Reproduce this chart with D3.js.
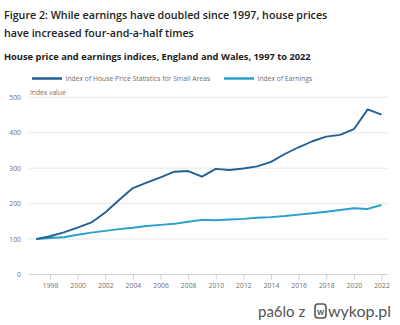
<!DOCTYPE html>
<html>
<head>
<meta charset="utf-8">
<script src="https://cdn.jsdelivr.net/npm/d3@7"></script>
<style>
  body { margin: 0; background: #fff; }
  svg { display: block; font-family: "Open Sans", sans-serif; }
</style>
</head>
<body>
<svg id="chart"></svg>
<script>
let years = d3.range(1997, 2023);

let housePrices = [100, 108, 119, 132, 147, 175, 210, 244, 259, 274, 290, 292, 276, 298, 295, 299, 305, 318, 340, 359, 376, 389, 394, 410, 466, 451];
let earnings = [100, 103, 105, 112, 118, 123, 128, 132, 137, 140, 143, 149, 154, 153, 155, 157, 160, 162, 165, 169, 173, 177, 182, 187, 185, 196];

let yTicks = [0, 100, 200, 300, 400, 500];
let xTicks = d3.range(1998, 2023, 2);

let seriesNames = ["Index of House Price Statistics for Small Areas", "Index of Earnings"];
let seriesColors = ["#206095", "#27a0cc"];

let width = 400;
let height = 325;

let svg = d3.select("#chart").attr("width", width).attr("height", height);

// Titles
svg.append("text")
  .attr("x", 4).attr("y", 19)
  .attr("font-size", 10.7).attr("font-weight", 600).attr("fill", "#222")
  .text("Figure 2: While earnings have doubled since 1997, house prices");
svg.append("text")
  .attr("x", 4).attr("y", 37)
  .attr("font-size", 10.7).attr("font-weight", 600).attr("fill", "#222")
  .text("have increased four-and-a-half times");
svg.append("text")
  .attr("x", 4).attr("y", 59.5)
  .attr("font-size", 9.3).attr("font-weight", 700).attr("fill", "#222")
  .text("House price and earnings indices, England and Wales, 1997 to 2022");

// Scales
let xScale = d3.scaleLinear().domain([1997, 2022]).range([36.2, 381.5]);
let yScale = d3.scaleLinear().domain([0, 500]).range([274.5, 97.3]);

// Gridlines
svg.append("g")
  .selectAll("line")
  .data(yTicks)
  .enter()
  .append("line")
  .attr("x1", 29).attr("x2", 388)
  .attr("y1", (d) => yScale(d)).attr("y2", (d) => yScale(d))
  .attr("stroke", (d) => d == 0 ? "#d0d0d0" : "#e8e8e8")
  .attr("stroke-width", 1);

// y axis labels
let yAxis = d3.axisLeft(yScale).tickValues(yTicks).tickSize(0).tickPadding(0);
let yG = svg.append("g").attr("transform", "translate(21,0)").call(yAxis);
yG.select(".domain").remove();
yG.selectAll("text").attr("font-size", 6.8).attr("fill", "#707070").attr("font-family", "Open Sans, sans-serif");

svg.append("text")
  .attr("x", 30).attr("y", 95)
  .attr("font-size", 6.7).attr("fill", "#707070")
  .text("Index value");

// x axis
let xAxis = d3.axisBottom(xScale).tickValues(xTicks).tickFormat(d3.format("d")).tickSize(5).tickPadding(4);
let xG = svg.append("g").attr("transform", "translate(0," + yScale(0) + ")").call(xAxis);
xG.select(".domain").remove();
xG.selectAll("line").attr("stroke", "#d0d0d0");
xG.selectAll("text").attr("font-size", 6.8).attr("fill", "#707070").attr("font-family", "Open Sans, sans-serif");

// Lines
let line = d3.line()
  .x((d, i) => xScale(years[i]))
  .y((d) => yScale(d));

[earnings, housePrices].forEach((vals, k) => {
  let idx = k == 0 ? 1 : 0;
  svg.append("path")
    .datum(vals)
    .attr("d", line)
    .attr("fill", "none")
    .attr("stroke", seriesColors[idx])
    .attr("stroke-width", 1.9)
    .attr("stroke-linejoin", "round");
});

// Legend
let legendX = [32, 224];
seriesNames.forEach((name, i) => {
  svg.append("line")
    .attr("x1", legendX[i]).attr("x2", legendX[i] + 30)
    .attr("y1", 78.5).attr("y2", 78.5)
    .attr("stroke", seriesColors[i]).attr("stroke-width", 2.5);
  svg.append("text")
    .attr("x", legendX[i] + 33.5).attr("y", 81)
    .attr("font-size", 6.8).attr("fill", "#707070")
    .text(name);
});

// Watermark
let wm = svg.append("g").attr("fill", "#555");
wm.append("text")
  .attr("x", 258).attr("y", 317)
  .attr("font-size", 15).attr("font-family", "Lato, sans-serif")
  .text("pa6lo z");
wm.append("rect")
  .attr("x", 315).attr("y", 304).attr("width", 11).attr("height", 14).attr("rx", 3)
  .attr("fill", "none").attr("stroke", "#555").attr("stroke-width", 1.6);
wm.append("text")
  .attr("x", 320.5).attr("y", 314.5).attr("text-anchor", "middle")
  .attr("font-size", 9).attr("font-weight", 700).attr("font-family", "Lato, sans-serif")
  .text("w");
wm.append("text")
  .attr("x", 328).attr("y", 317)
  .attr("font-size", 16).attr("font-family", "Lato, sans-serif")
  .text("wykop.pl");
</script>
</body>
</html>
